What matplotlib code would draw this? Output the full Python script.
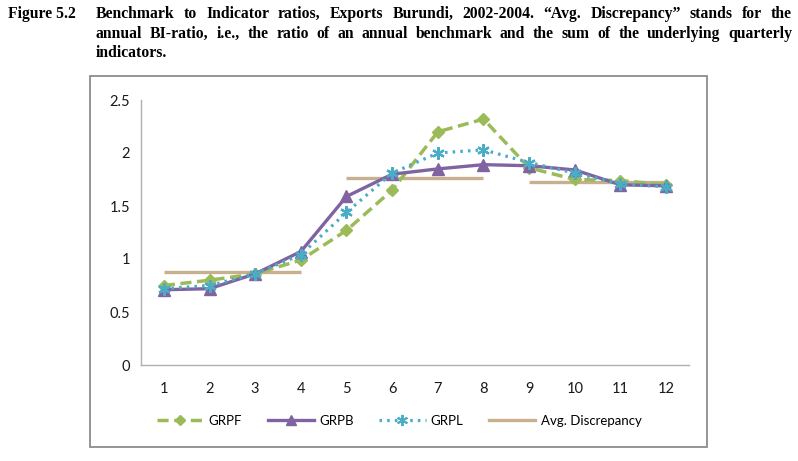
import matplotlib
matplotlib.use("Agg")
import matplotlib.pyplot as plt
from matplotlib.lines import Line2D
from matplotlib.patches import Rectangle

quarters = [1, 2, 3, 4, 5, 6, 7, 8, 9, 10, 11, 12]
grpf = [0.75, 0.80, 0.86, 0.99, 1.27, 1.65, 2.20, 2.32, 1.86, 1.75, 1.74, 1.70]
grpb = [0.71, 0.72, 0.86, 1.07, 1.59, 1.80, 1.85, 1.89, 1.88, 1.84, 1.70, 1.69]
grpl = [0.72, 0.75, 0.86, 1.04, 1.44, 1.81, 2.00, 2.03, 1.91, 1.81, 1.71, 1.68]
avg_years = [(1, 4), (5, 8), (9, 12)]
avg_values = [0.88, 1.76, 1.73]
y_ticks = [0, 0.5, 1, 1.5, 2, 2.5]
y_tick_labels = ["0", "0.5", "1", "1.5", "2", "2.5"]

W, H = 798, 461
fig = plt.figure(figsize=(W / 100, H / 100), dpi=100)

# chart frame
fig.patches.append(Rectangle((90 / W, 1 - 447 / H), (707 - 90) / W, (447 - 76) / H,
                             transform=fig.transFigure, fill=False,
                             edgecolor="#8c8c8c", linewidth=1.3))

ax = fig.add_axes([141 / W, 1 - 365 / H, (689 - 141) / W, (365 - 100) / H])
ax.set_xlim(0.5, 12.5)
ax.set_ylim(0, 2.5)

c_f, c_b, c_l, c_a = "#9BBB59", "#8064A2", "#4BACC6", "#C8B08F"
ls_f = (0, (3.2, 1.6))
ls_l = (0, (0.8, 1.6))

for (a, b), v in zip(avg_years, avg_values):
    ax.plot([a, b], [v, v], color=c_a, lw=2.4, solid_capstyle="butt", zorder=2)
ax.plot(quarters, grpf, color=c_f, lw=2.5, ls=ls_f, marker="D",
        ms=6, mfc=c_f, mec=c_f, zorder=3)
ax.plot(quarters, grpb, color=c_b, lw=2.4, ls="-", marker="^", ms=8,
        mfc=c_b, mec=c_b, zorder=4)
ax.plot(quarters, grpl, color=c_l, lw=2.3, ls=ls_l, marker=(6, 2, 0),
        ms=9, mfc=c_l, mec=c_l, mew=1.6, zorder=5)

ax.set_xticks(quarters)
ax.set_xticklabels([str(q) for q in quarters])
ax.set_yticks(y_ticks)
ax.set_yticklabels(y_tick_labels)
for s in ["top", "right"]:
    ax.spines[s].set_visible(False)
for s in ["left", "bottom"]:
    ax.spines[s].set_color("#b0b0b0")
    ax.spines[s].set_linewidth(1.0)
ax.tick_params(axis="both", length=0, labelsize=10.5, colors="#1a1a1a")
ax.tick_params(axis="x", pad=12)
ax.tick_params(axis="y", pad=8)
for lab in ax.get_xticklabels() + ax.get_yticklabels():
    lab.set_fontfamily("Lato")

handles = [
    Line2D([], [], color=c_f, lw=2.5, ls=ls_f, marker="D", ms=5),
    Line2D([], [], color=c_b, lw=2.4, marker="^", ms=7),
    Line2D([], [], color=c_l, lw=2.3, ls=ls_l, marker=(6, 2, 0), ms=8, mew=1.4),
    Line2D([], [], color=c_a, lw=2.4),
]
labels = ["GRPF", "GRPB", "GRPL", "Avg. Discrepancy"]
fig.legend(handles, labels, loc="center left", bbox_to_anchor=(157 / W, 1 - 421 / H),
           ncol=4, frameon=False, borderpad=0, borderaxespad=0,
           handlelength=3.5, handletextpad=0.4,
           columnspacing=1.95, prop={"family": "Lato", "size": 9.5})

# title, justified
tfont = dict(family="Liberation Serif", weight="bold", size=11.3)
fig.text(8 / W, 1 - 14 / H, "Figure 5.2", va="center", ha="left", **tfont)
lines = [
    "Benchmark to Indicator ratios, Exports Burundi, 2002-2004. \u201cAvg. Discrepancy\u201d stands for the",
    "annual BI-ratio, i.e., the ratio of an annual benchmark and the sum of the underlying quarterly",
    "indicators.",
]
ys = [14, 34, 53]
x0, x1 = 96, 792
r = fig.canvas.get_renderer()
for i, (line, y) in enumerate(zip(lines, ys)):
    words = line.split(" ")
    if i == len(lines) - 1:
        fig.text(x0 / W, 1 - y / H, line, va="center", ha="left", **tfont)
        continue
    texts = [fig.text(0, 1 - y / H, w, va="center", ha="left", **tfont) for w in words]
    widths = [t.get_window_extent(r).width for t in texts]
    gap = (x1 - x0 - sum(widths)) / (len(words) - 1)
    x = x0
    for t, wd in zip(texts, widths):
        t.set_x(x / W)
        x += wd + gap

fig.savefig("out.png", dpi=100)
